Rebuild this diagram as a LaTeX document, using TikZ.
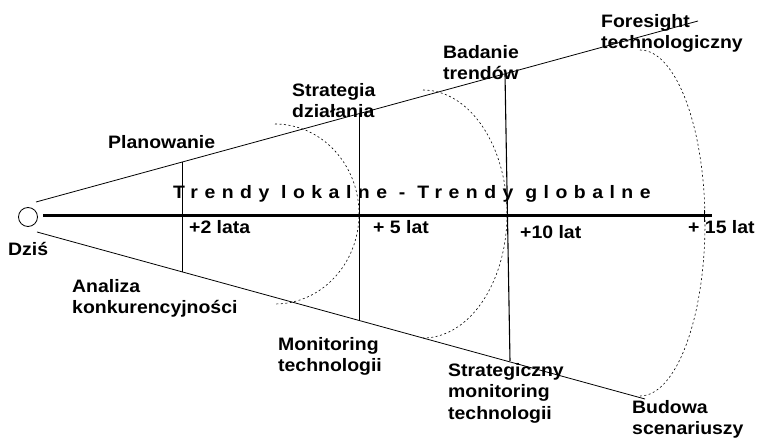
\documentclass[tikz,border=0pt]{standalone}
\usepackage{fontspec}
\setmainfont{Liberation Sans}[FakeStretch=1.08]
\usepackage{tikz}
\tikzstyle{lbl} = [font=\fontsize{18}{21.5}\selectfont\bfseries, inner sep=0pt, align=left, anchor=north west]
\tikzstyle{wave} = [line width=0.6pt, dash pattern=on 2pt off 2.5pt]
\tikzstyle{cut} = [line width=0.8pt]

\begin{document}
\begin{tikzpicture}[yscale=-1]
			\useasboundingbox (0pt,0pt) rectangle (758pt,438pt);
			\coordinate (u0) at (36pt,202pt);
			\coordinate (u1) at (698pt,21pt);
			\coordinate (l0) at (37pt,232pt);
			\coordinate (l1) at (645pt,399pt);
			\draw[cut] (u0) -- (u1);
			\draw[cut] (l0) -- (l1);
			\node[circle, draw, line width=0.8pt, minimum size=19pt, inner sep=0pt] (dzis) at (28pt,217pt) {};
			\coordinate (a0) at (43pt,216pt);
			\coordinate (a15) at (712pt,216pt);
			\draw[line width=3pt] (a0) -- (a15);
			\coordinate (v1t) at (182pt,162pt);
			\coordinate (v1b) at (182pt,272pt);
			\coordinate (v2t) at (359pt,114pt);
			\coordinate (v2b) at (359pt,321pt);
			\coordinate (v3t) at (505pt,74pt);
			\coordinate (v3b) at (510pt,361pt);
			\coordinate (k15t) at (704pt,210pt);
			\coordinate (k15b) at (704pt,222pt);
			\draw[cut] (v1t) -- (v1b);
			\draw[cut] (v2t) -- (v2b);
			\draw[line width=1.1pt] (v3t) -- (v3b);
			\draw[cut] (k15t) -- (k15b);
			\draw[wave] (275pt,124pt) arc[start angle=-90, end angle=90, x radius=84pt, y radius=90pt];
			\draw[wave] (423pt,90pt) arc[start angle=-90, end angle=90, x radius=84pt, y radius=124pt];
			\draw[wave] (640pt,50pt) arc[start angle=-90, end angle=90, x radius=65pt, y radius=173pt];
			\node[lbl] (dzisl) at (8pt,240pt) {\strut Dziś};
			\node[lbl] (plan) at (108pt,133pt) {\strut Planowanie};
			\node[lbl] (strat) at (292pt,81pt) {\strut Strategia\\działania};
			\node[lbl] (badanie) at (443pt,43pt) {\strut Badanie\\trendów};
			\node[lbl] (foresight) at (601pt,12pt) {\strut Foresight\\technologiczny};
			\node[lbl] (analiza) at (72pt,277pt) {\strut Analiza\\konkurencyjności};
			\node[lbl] (monit) at (278pt,335pt) {\strut Monitoring\\technologii};
			\node[lbl] (stratmon) at (448pt,361pt) {\strut Strategiczny\\monitoring\\technologii};
			\node[lbl] (budowa) at (632pt,398pt) {\strut Budowa\\scenariuszy};
			\node[lbl] (t2) at (189pt,218pt) {\strut +2 lata};
			\node[lbl] (t5) at (373pt,218pt) {\strut + 5 lat};
			\node[lbl] (t10) at (520pt,223pt) {\strut +10 lat};
			\node[lbl] (t15) at (688pt,218pt) {\strut + 15 lat};
			\node[lbl] (trendy) at (173pt,183pt) {\strut\addfontfeature{LetterSpace=36}Trendy lokalne - Trendy globalne};
		\end{tikzpicture}
\end{document}
